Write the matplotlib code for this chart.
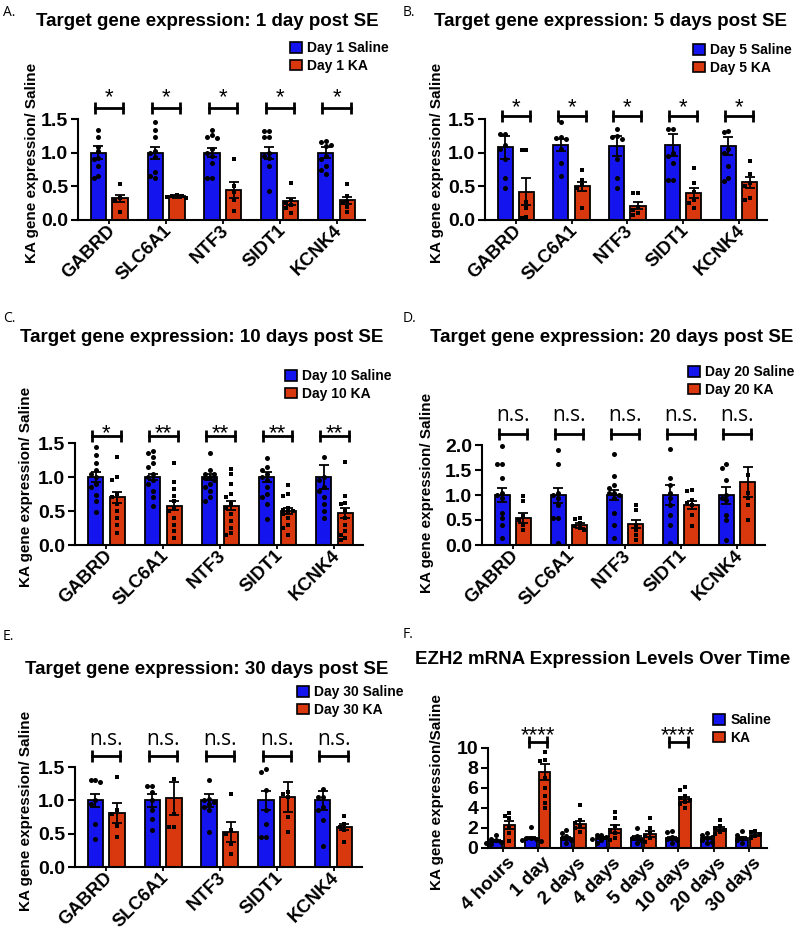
import matplotlib.pyplot as plt
import numpy as np

plt.rcParams['font.family'] = ['Liberation Sans', 'DejaVu Sans']

W, H = 800, 936
BLUE = '#1414ee'
RED = '#d9380f'

GENES = ['GABRD', 'SLC6A1', 'NTF3', 'SIDT1', 'KCNK4']
TIMES = ['4 hours', '1 day', '2 days', '4 days', '5 days', '10 days',
         '20 days', '30 days']

# Panel A: 1 day post SE
A_SAL_MEAN = [1.0, 1.0, 1.0, 1.0, 1.0]
A_SAL_SEM = [0.10, 0.09, 0.07, 0.09, 0.08]
A_KA_MEAN = [0.32, 0.35, 0.44, 0.28, 0.29]
A_KA_SEM = [0.05, 0.02, 0.12, 0.05, 0.05]
A_SAL_PTS = [[1.33, 1.24, 1.09, 1.02, 0.92, 0.90, 0.80, 0.65, 0.62],
             [1.45, 1.33, 1.23, 1.03, 1.0, 0.93, 0.72, 0.62, 0.65],
             [1.34, 1.26, 1.24, 1.22, 1.05, 1.0, 0.95, 0.85, 0.62, 0.62],
             [1.32, 1.32, 1.24, 1.24, 1.0, 0.95, 0.92, 0.80, 0.43],
             [1.17, 1.16, 1.12, 1.10, 0.95, 0.90, 0.80, 0.75, 0.68]]
A_KA_PTS = [[0.53, 0.32, 0.28, 0.12],
            [0.37, 0.36, 0.35, 0.34, 0.33],
            [0.91, 0.50, 0.42, 0.30, 0.14],
            [0.55, 0.30, 0.25, 0.22, 0.18, 0.10],
            [0.53, 0.35, 0.28, 0.25, 0.20, 0.12]]
A_SIG = ['*', '*', '*', '*', '*']

# Panel B: 5 days post SE
B_SAL_MEAN = [1.08, 1.11, 1.10, 1.11, 1.10]
B_SAL_SEM = [0.17, 0.09, 0.15, 0.16, 0.14]
B_KA_MEAN = [0.42, 0.50, 0.21, 0.40, 0.56]
B_KA_SEM = [0.20, 0.07, 0.05, 0.08, 0.08]
B_SAL_PTS = [[1.27, 1.27, 1.12, 1.06, 0.90, 0.62, 0.48],
             [1.46, 1.24, 1.22, 1.20, 1.05, 0.85, 0.65],
             [1.35, 1.25, 1.23, 1.20, 0.90, 0.62, 0.48],
             [1.35, 1.35, 1.0, 0.95, 0.85, 0.60, 0.60],
             [1.32, 1.30, 1.05, 1.00, 0.80, 0.62, 0.58]]
B_KA_PTS = [[1.04, 1.04, 0.27, 0.18, 0.05, 0.03],
            [0.74, 0.60, 0.52, 0.48, 0.18],
            [0.40, 0.40, 0.20, 0.15, 0.10, 0.08],
            [0.77, 0.55, 0.42, 0.30, 0.25, 0.18],
            [0.87, 0.68, 0.55, 0.50, 0.32, 0.30]]
B_SIG = ['*', '*', '*', '*', '*']

# Panel C: 10 days post SE
C_SAL_MEAN = [1.0, 1.0, 1.0, 1.0, 1.0]
C_SAL_SEM = [0.07, 0.05, 0.05, 0.07, 0.18]
C_KA_MEAN = [0.70, 0.58, 0.58, 0.50, 0.47]
C_KA_SEM = [0.08, 0.07, 0.07, 0.05, 0.08]
C_SAL_PTS = [[1.44, 1.33, 1.20, 1.11, 1.05, 1.0, 0.90, 0.86, 0.74, 0.64, 0.49],
             [1.38, 1.35, 1.30, 1.20, 1.15, 1.05, 1.0, 0.95, 0.90, 0.80, 0.70, 0.57],
             [1.35, 1.10, 1.05, 1.05, 1.0, 0.98, 0.95, 0.90, 0.85, 0.80, 0.70, 0.65],
             [1.28, 1.15, 1.10, 1.05, 1.0, 0.95, 0.85, 0.75, 0.70, 0.60, 0.38],
             [1.30, 1.0, 0.95, 0.85, 0.80, 0.70, 0.60, 0.50, 0.40]]
C_KA_PTS = [[1.30, 1.0, 0.95, 0.75, 0.70, 0.60, 0.50, 0.40, 0.30, 0.18],
            [1.20, 0.92, 0.82, 0.72, 0.65, 0.55, 0.50, 0.40, 0.30, 0.20, 0.10],
            [1.12, 1.05, 0.90, 0.75, 0.70, 0.60, 0.55, 0.45, 0.35, 0.25, 0.18, 0.15],
            [0.88, 0.75, 0.72, 0.55, 0.52, 0.50, 0.48, 0.45, 0.40, 0.30, 0.25, 0.15],
            [1.22, 0.72, 0.62, 0.60, 0.50, 0.40, 0.30, 0.20, 0.15, 0.10, 0.08]]
C_SIG = ['*', '**', '**', '**', '**']

# Panel D: 20 days post SE
D_SAL_MEAN = [1.01, 1.0, 1.0, 1.0, 1.0]
D_SAL_SEM = [0.14, 0.15, 0.10, 0.20, 0.17]
D_KA_MEAN = [0.55, 0.40, 0.42, 0.80, 1.27]
D_KA_SEM = [0.10, 0.05, 0.08, 0.08, 0.30]
D_SAL_PTS = [[1.98, 1.62, 1.62, 1.35, 1.05, 1.0, 0.95, 0.65, 0.55, 0.40, 0.15],
             [1.90, 1.62, 1.05, 1.0, 0.95, 0.80, 0.55, 0.55, 0.05],
             [1.82, 1.38, 1.20, 1.15, 1.05, 1.05, 1.0, 0.95, 0.65, 0.40, 0.15],
             [1.92, 1.35, 1.20, 1.05, 0.95, 0.80, 0.60, 0.40, 0.05],
             [1.62, 1.55, 1.30, 1.0, 0.95, 0.90, 0.60, 0.50, 0.10]]
D_KA_PTS = [[0.98, 0.88, 0.58, 0.50, 0.40, 0.30],
            [0.55, 0.52, 0.45, 0.38, 0.35, 0.30],
            [0.80, 0.70, 0.40, 0.30, 0.20, 0.10],
            [1.10, 1.08, 0.90, 0.85, 0.80, 0.60, 0.38],
            [1.40, 1.05, 0.95, 0.80, 0.50]]
D_SIG = ['n.s.'] * 5

# Panel E: 30 days post SE
E_SAL_MEAN = [1.0, 1.0, 1.0, 1.0, 1.0]
E_SAL_SEM = [0.10, 0.10, 0.10, 0.14, 0.14]
E_KA_MEAN = [0.81, 1.03, 0.52, 1.05, 0.60]
E_KA_SEM = [0.15, 0.25, 0.15, 0.22, 0.05]
E_SAL_PTS = [[1.30, 1.30, 1.28, 1.0, 0.95, 0.65, 0.42],
             [1.22, 1.22, 1.12, 1.0, 0.85, 0.72, 0.55],
             [1.30, 1.02, 1.0, 0.98, 0.95, 0.90, 0.85, 0.52],
             [1.47, 1.42, 1.15, 0.85, 0.65, 0.45, 0.45],
             [1.17, 1.05, 1.05, 0.90, 0.85, 0.70, 0.32]]
E_KA_PTS = [[1.35, 0.85, 0.80, 0.62, 0.45],
            [1.32, 0.80, 0.60, 0.60],
            [1.10, 0.55, 0.50, 0.35, 0.20],
            [1.12, 1.10, 1.05, 0.75, 0.53],
            [0.77, 0.65, 0.60, 0.55, 0.38]]
E_SIG = ['n.s.'] * 5

# Panel F: EZH2 over time
F_SAL_MEAN = [0.75, 1.0, 1.0, 1.0, 1.0, 1.0, 1.0, 1.0]
F_SAL_SEM = [0.10, 0.10, 0.15, 0.10, 0.20, 0.15, 0.10, 0.15]
F_KA_MEAN = [2.3, 7.6, 2.4, 1.95, 1.4, 4.9, 1.9, 1.35]
F_KA_SEM = [0.40, 0.80, 0.35, 0.40, 0.30, 0.25, 0.20, 0.15]
F_SAL_PTS = [[1.3, 0.9, 0.8, 0.6, 0.5, 0.4],
             [2.1, 1.0, 1.0, 0.9, 0.8, 0.7],
             [1.8, 1.5, 1.2, 1.0, 0.8, 0.5],
             [1.3, 1.3, 1.1, 0.9, 0.8, 0.5],
             [2.0, 1.2, 1.0, 0.8, 0.5],
             [1.7, 1.6, 1.1, 0.9, 0.8, 0.5],
             [1.5, 1.3, 1.1, 1.0, 0.8, 0.6, 0.5],
             [1.7, 1.3, 1.0, 0.8, 0.5]]
F_KA_PTS = [[3.5, 3.2, 3.0, 2.0, 1.5, 0.7],
            [9.6, 8.8, 8.7, 7.0, 6.0, 5.2, 4.5, 4.0],
            [4.3, 2.8, 2.5, 2.2, 2.0, 1.6],
            [3.6, 3.0, 2.2, 1.8, 1.5, 1.0, 0.8],
            [3.0, 2.0, 1.5, 1.2, 1.0, 0.6],
            [6.1, 5.8, 5.2, 5.0, 4.8, 4.6, 4.4, 4.0],
            [2.8, 2.2, 2.0, 1.8, 1.6, 1.4],
            [1.7, 1.6, 1.4, 1.2, 1.0]]
F_SIG = ['', '****', '', '', '', '****', '', '']


def px_rect(x0, x1, ytop, ybot):
    return [x0 / W, 1 - ybot / H, (x1 - x0) / W, (ybot - ytop) / H]


def swarm(vals, ystep, xstep, kmax=2):
    placed = []
    offs = []
    for v in vals:
        x = 0.0
        for k in [0, -1, 1, -2, 2, -3, 3][:2 * kmax + 1]:
            x = k * xstep
            if all(abs(x - px) > xstep * 0.5 or abs(v - py) >= ystep
                   for px, py in placed):
                break
        placed.append((x, v))
        offs.append(x)
    return np.array(offs)


def panel(fig, box, labels, sal_m, sal_e, ka_m, ka_e, sal_p, ka_p, sig,
          ymax, ystep, xlim, width, off, bracket_y, text_y, bracket_half,
          sig_size, sig_font, xlab_size, xlab_shift, xlab_pad):
    ax = fig.add_axes(px_rect(*box))
    x = np.arange(len(labels))
    h_px = box[3] - box[2]
    w_px = box[1] - box[0]
    unit_px = w_px / (xlim[1] - xlim[0])
    for sign, means, errs, pts, color, mk in [
            (-1, sal_m, sal_e, sal_p, BLUE, 'o'),
            (1, ka_m, ka_e, ka_p, RED, 's')]:
        xs = x + sign * off
        ax.bar(xs, means, width=width, color=color, edgecolor='black',
               linewidth=1.3, zorder=2)
        ax.errorbar(xs, means, yerr=errs, fmt='none', ecolor='black',
                    elinewidth=1.3, capsize=3.5, capthick=1.3, zorder=3)
        for xi, p in zip(xs, pts):
            dx = swarm(p, ymax * 4.2 / h_px, 4.8 / unit_px)
            ax.plot(xi + dx, p, mk, color='black', ms=3.3 if mk == 's' else 3.6,
                    mew=0, zorder=4, clip_on=False)
    for xi, s in zip(x, sig):
        if not s:
            continue
        ax.plot([xi - bracket_half, xi + bracket_half], [bracket_y, bracket_y],
                color='black', lw=2, clip_on=False)
        ax.plot([xi - bracket_half, xi + bracket_half], [bracket_y, bracket_y],
                '|', color='black', ms=8, mew=2, clip_on=False)
        ax.text(xi, text_y, s, ha='center', va='baseline', fontsize=sig_size,
                family=sig_font, clip_on=False)
    ax.set_xlim(*xlim)
    ax.set_ylim(0, ymax)
    ax.set_yticks(np.arange(0, ymax + ystep / 2, ystep))
    # tick marks at the group centres, labels slightly to the right
    ax.set_xticks(x, minor=True)
    ax.set_xticks(x + xlab_shift / unit_px)
    ax.set_xticklabels(labels, rotation=45, ha='right', va='center',
                       rotation_mode='anchor', fontsize=xlab_size,
                       fontweight='bold')
    for lab in ax.get_yticklabels():
        lab.set_fontweight('bold')
        lab.set_fontsize(14)
    ax.tick_params(axis='y', length=5, width=1.5, pad=2)
    ax.tick_params(axis='x', which='major', length=0, pad=xlab_pad)
    ax.tick_params(axis='x', which='minor', length=3, width=1.3)
    for sp in ['top', 'right']:
        ax.spines[sp].set_visible(False)
    for sp in ['left', 'bottom']:
        ax.spines[sp].set_linewidth(1.5)
    return ax


def legend(fig, ax, names, x, y):
    from matplotlib.patches import Patch
    handles = [Patch(facecolor=BLUE, edgecolor='black', linewidth=1.2),
               Patch(facecolor=RED, edgecolor='black', linewidth=1.2)]
    ax.legend(handles, names, loc='center left',
              bbox_to_anchor=(x / W, 1 - y / H), bbox_transform=fig.transFigure,
              frameon=False, prop={'weight': 'bold', 'size': 10},
              handlelength=0.85, handleheight=0.75, handletextpad=0.4,
              labelspacing=0.25, borderpad=0, borderaxespad=0)


fig = plt.figure(figsize=(W / 100, H / 100), dpi=100)

XL5 = (-0.55, 4.5)
panels = [
    ('A.', (3, 12), 'Target gene expression: 1 day post SE', (207, 22),
     (78, 365, 119, 220), A_SAL_MEAN, A_SAL_SEM, A_KA_MEAN, A_KA_SEM,
     A_SAL_PTS, A_KA_PTS, A_SIG, 1.5, 1.67, 1.73,
     ['Day 1 Saline', 'Day 1 KA'], (290, 57), (32, 163)),
    ('B.', (403, 12), 'Target gene expression: 5 days post SE', (610, 22),
     (485, 767, 119, 220), B_SAL_MEAN, B_SAL_SEM, B_KA_MEAN, B_KA_SEM,
     B_SAL_PTS, B_KA_PTS, B_SIG, 1.5, 1.55, 1.59,
     ['Day 5 Saline', 'Day 5 KA'], (693, 59), (437, 163)),
    ('C.', (3, 318), 'Target gene expression: 10 days post SE', (202, 338),
     (75, 363, 443, 545), C_SAL_MEAN, C_SAL_SEM, C_KA_MEAN, C_KA_SEM,
     C_SAL_PTS, C_KA_PTS, C_SIG, 1.5, 1.60, 1.56,
     ['Day 10 Saline', 'Day 10 KA'], (285, 385), (26, 487)),
    ('D.', (403, 318), 'Target gene expression: 20 days post SE', (612, 337),
     (482, 765, 445, 545), D_SAL_MEAN, D_SAL_SEM, D_KA_MEAN, D_KA_SEM,
     D_SAL_PTS, D_KA_PTS, D_SIG, 2.0, 2.23, 2.48,
     ['Day 20 Saline', 'Day 20 KA'], (688, 381), (427, 493)),
    ('E.', (3, 637), 'Target gene expression: 30 days post SE', (207, 670),
     (75, 362, 767, 867), E_SAL_MEAN, E_SAL_SEM, E_KA_MEAN, E_KA_SEM,
     E_SAL_PTS, E_KA_PTS, E_SIG, 1.5, 1.66, 1.83,
     ['Day 30 Saline', 'Day 30 KA'], (297, 701), (26, 811)),
]

for (tag, tag_pos, title, title_pos, box, sm, se, km, ke, sp, kp, sig, ymax,
     by, ty, names, leg_pos, yl_pos) in panels:
    ns = sig[0] == 'n.s.'
    ax = panel(fig, box, GENES, sm, se, km, ke, sp, kp, sig, ymax, 0.5, XL5,
               0.27, 0.19, by, ty, 0.25, 15 if ns else 16,
               ['Open Sans', 'DejaVu Sans'] if ns else ['Liberation Sans'],
               13.2, 3, 6)
    legend(fig, ax, names, *leg_pos)
    fig.text(tag_pos[0] / W, 1 - tag_pos[1] / H, tag, ha='left', va='center',
             fontsize=10, family=['Open Sans'])
    fig.text(title_pos[0] / W, 1 - title_pos[1] / H, title, ha='center',
             va='center', fontsize=13.5, fontweight='bold')
    fig.text(yl_pos[0] / W, 1 - yl_pos[1] / H, 'KA gene expression/ Saline',
             ha='center', va='center', rotation=90, fontsize=11,
             fontweight='bold')

# Panel F
axf = panel(fig, (488, 767, 748, 848), TIMES, F_SAL_MEAN, F_SAL_SEM,
            F_KA_MEAN, F_KA_SEM, F_SAL_PTS, F_KA_PTS, F_SIG, 10, 2,
            (-0.42, 7.52), 0.33, 0.19, 10.63, 10.7, 0.26, 16,
            ['Liberation Sans'], 13.5, 10, 9)
legend(fig, axf, ['Saline', 'KA'], 713, 729)
fig.text(403 / W, 1 - 635 / H, 'F.', ha='left', va='center', fontsize=10,
         family=['Open Sans'])
fig.text(603 / W, 1 - 660 / H, 'EZH2 mRNA Expression Levels Over Time',
         ha='center', va='center', fontsize=13.5, fontweight='bold')
fig.text(437 / W, 1 - 792 / H, 'KA gene expression/Saline', ha='center',
         va='center', rotation=90, fontsize=11, fontweight='bold')

fig.savefig('out.png', dpi=100)
